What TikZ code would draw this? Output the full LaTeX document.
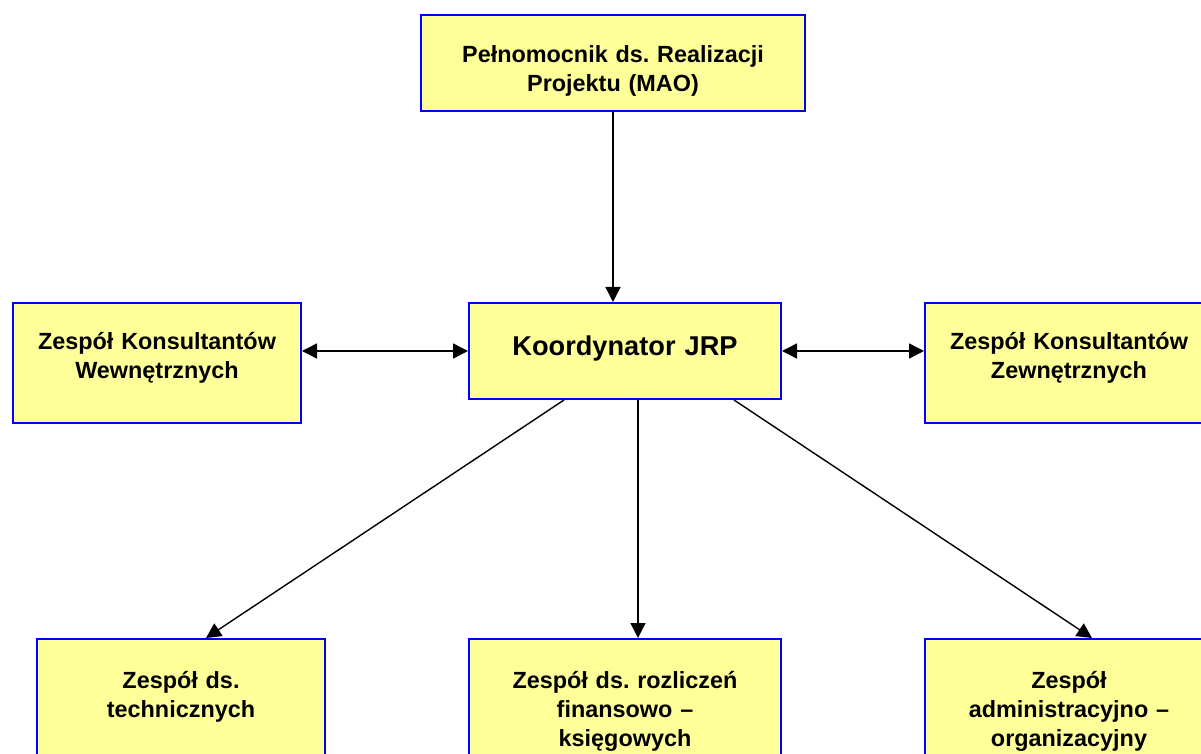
\documentclass[tikz,border=0pt]{standalone}
\usepackage{fontspec}
\setmainfont{Liberation Sans}
\usetikzlibrary{arrows.meta,positioning}
\definecolor{unitfill}{HTML}{FFFF99}
\definecolor{unitline}{HTML}{0000FF}
\frenchspacing

\tikzset{
  unit/.style={draw=unitline, line width=1pt, fill=unitfill, anchor=north west,
    inner sep=0pt, align=center, font=\bfseries\fontsize{11.7}{14.5}\selectfont},
  link/.style={line width=0.7pt, -{Triangle[length=7.5pt,width=7.5pt]}},
  dlink/.style={line width=0.7pt, {Triangle[length=7.5pt,width=7.5pt]}-{Triangle[length=7.5pt,width=7.5pt]}}
}

\begin{document}
\begin{tikzpicture}[x=0.5pt,y=-0.5pt]
  \fill[white] (0,0) rectangle (1201,754);
  \clip (0,0) rectangle (1201,754);

  % top level
  \node[unit, text width=192pt, text height=24pt, text depth=24pt] (pelnomocnik) at (420,14)
    {Pełnomocnik ds. Realizacji\\Projektu (MAO)};

  % middle row
  \node[unit, text width=156pt, text height=26.5pt, text depth=21.5pt,
    font=\bfseries\fontsize{13.6}{16}\selectfont] (koordynator) at (468,302) {Koordynator JRP};
  \node[unit, text width=144pt, text height=23.5pt, text depth=36.5pt] (wewnetrzni) at (12,302)
    {Zespół Konsultantów\\Wewnętrznych};
  \node[unit, text width=144pt, text height=23.5pt, text depth=36.5pt] (zewnetrzni) at (924,302)
    {Zespół Konsultantów\\Zewnętrznych};

  % bottom row
  \node[unit, text width=144pt, text height=24.5pt, text depth=60pt] (techniczny) at (36,638)
    {Zespół ds.\\technicznych};
  \node[unit, text width=156pt, text height=24.5pt, text depth=60pt] (finanse) at (468,638)
    {Zespół ds. rozliczeń\\finansowo –\\księgowych};
  \node[unit, text width=144pt, text height=24.5pt, text depth=60pt] (administracja) at (924,638)
    {Zespół\\administracyjno –\\organizacyjny};

  % connectors
  \draw[link] (pelnomocnik.south) -- (pelnomocnik.south |- koordynator.north);
  \draw[dlink] (koordynator.west) -- (koordynator.west -| wewnetrzni.east);
  \draw[dlink] (koordynator.east) -- (koordynator.east -| zewnetrzni.west);
  \draw[link] ([xshift=-30.5pt]koordynator.south) -- ([xshift=12.5pt]techniczny.north);
  \draw[link] ([xshift=6.5pt]koordynator.south) -- ([xshift=6.5pt]finanse.north);
  \draw[link] ([xshift=54.5pt]koordynator.south) -- ([xshift=11.5pt]administracja.north);
\end{tikzpicture}
\end{document}
